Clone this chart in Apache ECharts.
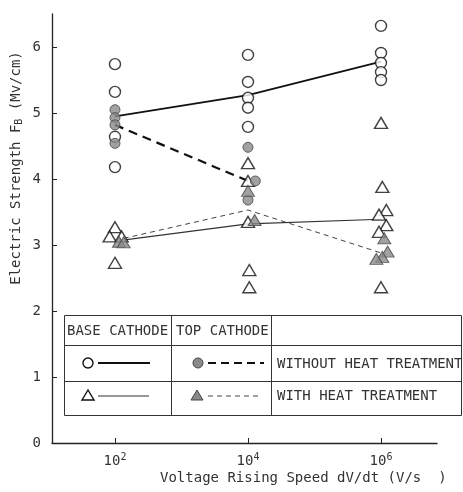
<!DOCTYPE html>
<html>
<head>
<meta charset="utf-8">
<script src="https://cdn.jsdelivr.net/npm/echarts@6/dist/echarts.min.js"></script>
<style>
html,body{margin:0;padding:0;background:#fff;}
#chart{width:463px;height:492px;}
</style>
</head>
<body>
<div id="chart"></div>
<script>
// ---- Data (x = log10 of dV/dt in V/s, y = electric strength in MV/cm) ----
const speedExponents = [2, 4, 6];
const xTickExponents = [2, 4, 6];
const yTicks = [0, 1, 2, 3, 4, 5, 6];

// Base cathode, without heat treatment (open circles)
const baseNoHeat = [
  [2, 5.74], [2, 5.32], [2, 4.64], [2, 4.18],
  [4, 5.88], [4, 5.47], [4, 5.23], [4, 5.08], [4, 4.79],
  [6, 6.32], [6, 5.91], [6, 5.76], [6, 5.62], [6, 5.50]
];
// Top cathode, without heat treatment (filled circles)
const topNoHeat = [
  [2, 5.05], [2, 4.93], [2, 4.82], [2, 4.54],
  [4, 4.48], [4.11, 3.97], [4, 3.68]
];
// Base cathode, with heat treatment (open triangles)
const baseHeat = [
  [2, 3.27], [1.92, 3.13], [2.1, 3.13], [2, 2.73],
  [4, 4.24], [4, 3.97], [4, 3.35], [4.02, 2.62], [4.02, 2.36],
  [6, 4.85], [6.02, 3.88], [6.08, 3.53], [5.97, 3.46], [6.08, 3.30], [5.97, 3.20], [6, 2.36]
];
// Top cathode, with heat treatment (filled triangles)
const topHeat = [
  [2.06, 3.05], [2.13, 3.04],
  [4, 3.82], [4.1, 3.38],
  [6.05, 3.10], [6.1, 2.90], [6.02, 2.82], [5.93, 2.79]
];
// Trend lines through the mean values
const baseNoHeatLine = [4.95, 5.27, 5.78];
const topNoHeatLine = [4.82, 3.97];
const baseHeatLine = [3.06, 3.32, 3.39];
const topHeatLine = [3.07, 3.53, 2.88];

const FONT = 'DejaVu Sans Mono';
const TXT = '#333';

function pairs(ys) { return ys.map((v, i) => [speedExponents[i], v]); }

const chart = echarts.init(document.getElementById('chart'), null, {renderer: 'canvas'});

const openSym = {color: '#fff', borderColor: '#111', borderWidth: 1.4};
const fillSym = {color: '#8a8a8a', borderColor: '#444', borderWidth: 1};

const option = {
  backgroundColor: '#fff',
  animation: false,
  grid: {left: 52, right: 26, top: 14, bottom: 49},
  xAxis: {
    type: 'value', min: 1.053, max: 6.842,
    axisLine: {show: true, lineStyle: {color: '#222', width: 1.3}},
    axisTick: {show: true, inside: true, length: 5, customValues: xTickExponents, lineStyle: {color: '#222'}},
    axisLabel: {
      customValues: xTickExponents, margin: 9,
      formatter: v => '10{sup|' + v + '}',
      color: TXT, fontFamily: FONT, fontSize: 14,
      rich: {sup: {fontSize: 10, fontFamily: FONT, color: TXT, padding: [0, 0, 9, 0]}}
    },
    splitLine: {show: false}
  },
  yAxis: {
    type: 'value', min: 0, max: 6.5,
    axisLine: {show: true, lineStyle: {color: '#222', width: 1.3}},
    axisTick: {show: true, inside: true, length: 5, customValues: yTicks, lineStyle: {color: '#222'}},
    axisLabel: {customValues: yTicks, margin: 11, color: TXT, fontFamily: FONT, fontSize: 14},
    splitLine: {show: false}
  },
  series: [
    {type: 'line', data: pairs(baseNoHeatLine), symbol: 'none', z: 2,
     lineStyle: {color: '#111', width: 1.8}},
    {type: 'line', data: pairs(topNoHeatLine), symbol: 'none', z: 2,
     lineStyle: {color: '#111', width: 2.2, type: [9, 6]}},
    {type: 'line', data: pairs(baseHeatLine), symbol: 'none', z: 2,
     lineStyle: {color: '#333', width: 1.2}},
    {type: 'line', data: pairs(topHeatLine), symbol: 'none', z: 2,
     lineStyle: {color: '#444', width: 1, type: [5, 4]}},
    {type: 'scatter', data: baseNoHeat, symbol: 'circle', symbolSize: 11, z: 5, itemStyle: openSym},
    {type: 'scatter', data: topNoHeat, symbol: 'circle', symbolSize: 10, z: 6, itemStyle: fillSym},
    {type: 'scatter', data: baseHeat, symbol: 'triangle', symbolSize: [13, 11], z: 5, itemStyle: openSym},
    {type: 'scatter', data: topHeat, symbol: 'triangle', symbolSize: [13, 11], z: 6, itemStyle: fillSym}
  ],
  graphic: [
    {type: 'text', x: 16, y: 168, rotation: Math.PI / 2, z: 10,
     style: {text: 'Electric Strength F{sub|B} (Mv/cm)', fill: TXT, font: '14px ' + FONT,
             align: 'center', verticalAlign: 'middle',
             rich: {sub: {fontSize: 10, fontFamily: FONT, fill: TXT, padding: [6, 0, 0, 0]}}}},
    {type: 'text', x: 160, y: 478, z: 10,
     style: {text: 'Voltage Rising Speed dV/dt (V/s  )', fill: TXT, font: '14px ' + FONT,
             align: 'left', verticalAlign: 'middle'}},
    // legend table
    {type: 'rect', z: 20, shape: {x: 64.5, y: 315.5, width: 397, height: 100},
     style: {fill: '#fff', stroke: '#333', lineWidth: 1}},
    {type: 'line', z: 21, shape: {x1: 64.5, y1: 345.5, x2: 461.5, y2: 345.5}, style: {stroke: '#333', lineWidth: 1}},
    {type: 'line', z: 21, shape: {x1: 64.5, y1: 381.5, x2: 461.5, y2: 381.5}, style: {stroke: '#333', lineWidth: 1}},
    {type: 'line', z: 21, shape: {x1: 171.5, y1: 315.5, x2: 171.5, y2: 415.5}, style: {stroke: '#333', lineWidth: 1}},
    {type: 'line', z: 21, shape: {x1: 271.5, y1: 315.5, x2: 271.5, y2: 415.5}, style: {stroke: '#333', lineWidth: 1}},
    {type: 'text', z: 22, x: 67, y: 331, style: {text: 'BASE CATHODE', fill: TXT, font: '14px ' + FONT, verticalAlign: 'middle'}},
    {type: 'text', z: 22, x: 176, y: 331, style: {text: 'TOP CATHODE', fill: TXT, font: '14px ' + FONT, verticalAlign: 'middle'}},
    {type: 'text', z: 22, x: 277, y: 364, style: {text: 'WITHOUT HEAT TREATMENT', fill: TXT, font: '14px ' + FONT, verticalAlign: 'middle'}},
    {type: 'text', z: 22, x: 277, y: 396, style: {text: 'WITH HEAT TREATMENT', fill: TXT, font: '14px ' + FONT, verticalAlign: 'middle'}},
    // legend keys
    {type: 'circle', z: 22, shape: {cx: 88, cy: 363, r: 5}, style: {fill: '#fff', stroke: '#111', lineWidth: 1.4}},
    {type: 'line', z: 22, shape: {x1: 98, y1: 363, x2: 150, y2: 363}, style: {stroke: '#111', lineWidth: 1.8}},
    {type: 'circle', z: 22, shape: {cx: 198, cy: 363, r: 5}, style: {fill: '#8a8a8a', stroke: '#444', lineWidth: 1}},
    {type: 'line', z: 22, shape: {x1: 208, y1: 363, x2: 264, y2: 363}, style: {stroke: '#111', lineWidth: 2.2, lineDash: [8, 5]}},
    {type: 'polygon', z: 22, shape: {points: [[88, 390], [82, 400], [94, 400]]}, style: {fill: '#fff', stroke: '#111', lineWidth: 1.4}},
    {type: 'line', z: 22, shape: {x1: 98, y1: 396, x2: 149, y2: 396}, style: {stroke: '#333', lineWidth: 1.2}},
    {type: 'polygon', z: 22, shape: {points: [[197, 390], [191, 400], [203, 400]]}, style: {fill: '#8a8a8a', stroke: '#444', lineWidth: 1}},
    {type: 'line', z: 22, shape: {x1: 208, y1: 396, x2: 262, y2: 396}, style: {stroke: '#444', lineWidth: 1, lineDash: [5, 4]}}
  ]
};
chart.setOption(option);
</script>
</body>
</html>
